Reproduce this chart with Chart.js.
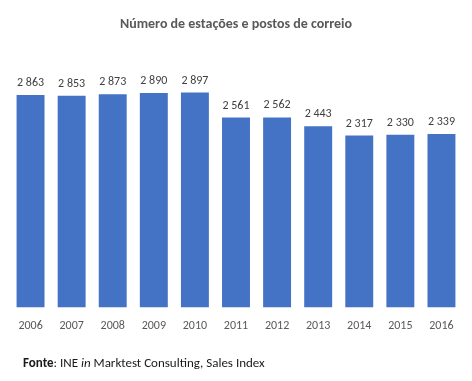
<!DOCTYPE html>
<html>
<head>
<meta charset="utf-8">
<script src="https://cdn.jsdelivr.net/npm/chart.js@4"></script>
<style>
  body { margin: 0; background: #fff; }
  #wrap { position: relative; width: 472px; height: 381px; }
  #footer {
    position: absolute; left: 23px; top: 355px;
    font-family: Carlito, Lato, sans-serif; font-size: 13px; color: #1a1a1a;
  }
</style>
</head>
<body>
<div id="wrap">
  <canvas id="chart" width="472" height="381"></canvas>
  <div id="footer"><b>Fonte</b>: INE <i>in</i> Marktest Consulting, Sales Index</div>
</div>
<script>
const years = ['2006', '2007', '2008', '2009', '2010', '2011', '2012', '2013', '2014', '2015', '2016'];
const stations = [2863, 2853, 2873, 2890, 2897, 2561, 2562, 2443, 2317, 2330, 2339];

const fontFamily = 'Carlito, Lato, sans-serif';

// thousands with a space, e.g. 2 863
function fmt(v) {
    return String(v).replace(/\B(?=(\d{3})+(?!\d))/g, ' ');
}

const valueLabels = {
    id: 'valueLabels',
    afterDatasetsDraw(chart) {
        const ctx = chart.ctx;
        const meta = chart.getDatasetMeta(0);
        ctx.save();
        ctx.font = '12px ' + fontFamily;
        ctx.fillStyle = '#404040';
        ctx.textAlign = 'center';
        ctx.textBaseline = 'bottom';
        meta.data.forEach(function(bar, i) {
            ctx.fillText(fmt(stations[i]), bar.x, bar.y - 6);
        });
        ctx.restore();
    }
};

new Chart(document.getElementById('chart').getContext('2d'), {
    type: 'bar',
    data: {
        labels: years,
        datasets: [{
            data: stations,
            backgroundColor: '#4472c4',
            barPercentage: 0.68,
            categoryPercentage: 1
        }]
    },
    options: {
        responsive: false,
        animation: false,
        layout: { padding: { left: 10, right: 10, top: 0, bottom: 45 } },
        plugins: {
            legend: { display: false },
            tooltip: { enabled: false },
            title: {
                display: true,
                text: 'Número de estações e postos de correio',
                color: '#595959',
                font: { family: fontFamily, size: 14, weight: 'bold' },
                padding: { top: 16, bottom: 15 }
            }
        },
        scales: {
            x: {
                grid: { display: false },
                border: { display: false },
                ticks: { color: '#595959', font: { family: fontFamily, size: 12 }, padding: 3 }
            },
            y: {
                display: false,
                min: 0,
                max: 3500
            }
        }
    },
    plugins: [valueLabels]
});
</script>
</body>
</html>
